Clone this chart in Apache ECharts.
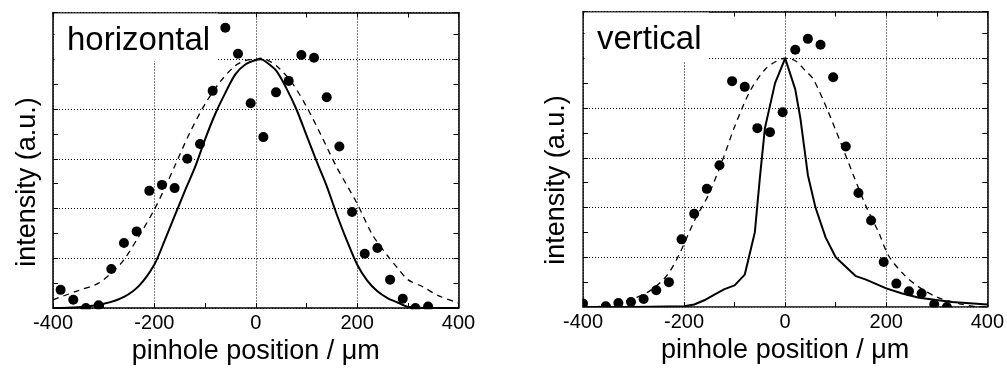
<!DOCTYPE html>
<html>
<head>
<meta charset="utf-8">
<script src="https://cdn.jsdelivr.net/npm/echarts@6/dist/echarts.min.js"></script>
<style>html,body{margin:0;padding:0;background:#fff}#c{width:1007px;height:370px}</style>
</head>
<body>
<div id="c"></div>
<script>
// ---- horizontal panel ----
var hDotX = [-385,-360,-335,-310,-285,-260,-235,-210,-185,-160,-135,-110,-85,-60,-35,-10,15,40,65,90,115,140,165,190,215,240,265,290,315,340];
var hDotY = [0.073,0.033,0.0,0.011,0.157,0.261,0.308,0.471,0.495,0.482,0.600,0.659,0.873,1.127,1.022,0.823,0.687,0.867,0.913,1.017,1.006,0.847,0.649,0.386,0.218,0.241,0.114,0.037,0.0,0.006];
var hSolidX = [-400,-350,-300,-260,-230,-200,-180,-160,-140,-120,-100,-80,-60,-40,-20,0,10,20,40,60,80,100,120,140,160,180,200,220,240,260,280,300,350,400];
var hSolidY = [0.0,0.003,0.017,0.045,0.09,0.175,0.27,0.37,0.47,0.565,0.678,0.78,0.865,0.94,0.98,0.997,1.0,0.99,0.955,0.885,0.8,0.695,0.59,0.49,0.375,0.27,0.175,0.11,0.067,0.04,0.022,0.005,0.0,0.0];
var hDashX = [-400,-380,-350,-310,-280,-260,-230,-200,-180,-160,-130,-100,-70,-40,-20,0,10,20,40,70,100,130,160,200,230,260,280,300,330,360,400];
var hDashY = [0.033,0.048,0.07,0.1,0.15,0.194,0.29,0.396,0.48,0.57,0.705,0.82,0.91,0.975,0.995,1.0,1.004,1.0,0.975,0.91,0.81,0.69,0.565,0.42,0.295,0.21,0.16,0.114,0.085,0.05,0.02];
// ---- vertical panel ----
var vDotX = [-400,-355,-330,-305,-280,-255,-230,-205,-180,-155,-130,-105,-80,-55,-30,-5,20,45,70,95,120,145,170,195,220,245,270,295,320];
var vDotY = [0.014,0.003,0.016,0.02,0.032,0.067,0.1,0.272,0.375,0.475,0.57,0.908,0.885,0.719,0.703,0.783,1.034,1.078,1.054,0.924,0.645,0.458,0.348,0.181,0.094,0.063,0.054,0.011,0.0];
var vSolidX = [-400,-300,-200,-180,-160,-140,-120,-100,-80,-70,-60,-50,-40,-20,0,20,30,45,60,80,100,140,160,200,230,265,330,400];
var vSolidY = [0.0,0.0,0.003,0.01,0.027,0.05,0.072,0.087,0.13,0.215,0.3,0.52,0.72,0.9,1.0,0.875,0.76,0.53,0.4,0.28,0.2,0.124,0.11,0.075,0.055,0.037,0.02,0.01];
var vDashX = [-400,-350,-310,-270,-235,-210,-180,-150,-120,-100,-70,-40,-20,0,20,40,55,80,110,135,160,185,205,235,265,300,345,385,400];
var vDashY = [0.0,0.006,0.027,0.062,0.124,0.21,0.345,0.458,0.612,0.725,0.866,0.955,0.985,1.0,0.99,0.95,0.918,0.81,0.66,0.53,0.405,0.3,0.205,0.13,0.08,0.04,0.013,0.0,0.0];

var xTitle = 'pinhole position / \u03bcm';
var yTitle = 'intensity (a.u.)';
var panelTitles = ['horizontal', 'vertical'];

function pairs(xs, ys){ return xs.map(function(x,i){ return [x, ys[i]]; }); }

var FONT = '"Liberation Sans", Arial, sans-serif';
var dotted = {color:'#000', width:1, type:[1,2]};

function xAx(gi, pos, main){
  return {
    type:'value', gridIndex:gi, position:pos, min:-400, max:400, interval:200,
    axisLine:{show:true, onZero:false, lineStyle:{color:'#000', width:1.5}},
    axisTick:{show:true, inside:true, length:5, lineStyle:{color:'#000', width:1}},
    minorTick:{show:true, splitNumber:2, length:5, lineStyle:{color:'#000', width:1}},
    axisLabel:{show:main, color:'#000', fontSize:20, fontFamily:FONT, margin:5},
    splitLine:{show:main, lineStyle:dotted},
    name: main ? xTitle : '', nameLocation:'middle', nameGap:30,
    nameTextStyle:{color:'#000', fontSize:27, fontFamily:FONT}
  };
}
function yAx(gi, pos, main){
  return {
    type:'value', gridIndex:gi, position:pos, min:0, max:1.188, interval:0.2,
    axisLine:{show:true, onZero:false, lineStyle:{color:'#000', width:1.5}},
    axisTick:{show:true, inside:true, length:5, lineStyle:{color:'#000', width:1}},
    minorTick:{show:true, splitNumber:2, length:5, lineStyle:{color:'#000', width:1}},
    axisLabel:{show:false},
    splitLine:{show:main, lineStyle:dotted}
  };
}

var chart = echarts.init(document.getElementById('c'), null, {renderer:'canvas'});
chart.setOption({
  animation:false,
  backgroundColor:'#fff',
  grid:[
    {left:53, top:12.5, width:405.5, height:296},
    {left:583, top:11.5, width:405, height:295.5}
  ],
  xAxis:[xAx(0,'bottom',true), xAx(0,'top',false), xAx(1,'bottom',true), xAx(1,'top',false)],
  yAxis:[yAx(0,'left',true), yAx(0,'right',false), yAx(1,'left',true), yAx(1,'right',false)],
  series:[
    {type:'line', xAxisIndex:0, yAxisIndex:0, data:pairs(hDashX,hDashY), showSymbol:false, smooth:0.3,
      lineStyle:{color:'#000', width:1.3, type:[6,5]}, z:2},
    {type:'line', xAxisIndex:0, yAxisIndex:0, data:pairs(hSolidX,hSolidY), showSymbol:false, smooth:0.3,
      lineStyle:{color:'#000', width:2}, z:2},
    {type:'scatter', xAxisIndex:0, yAxisIndex:0, data:pairs(hDotX,hDotY), symbol:'circle', symbolSize:10,
      itemStyle:{color:'#000', opacity:1}, z:3},
    {type:'line', xAxisIndex:2, yAxisIndex:2, data:pairs(vDashX,vDashY), showSymbol:false, smooth:0.3,
      lineStyle:{color:'#000', width:1.3, type:[6,5]}, z:2},
    {type:'line', xAxisIndex:2, yAxisIndex:2, data:pairs(vSolidX,vSolidY), showSymbol:false, smooth:false,
      lineStyle:{color:'#000', width:2}, z:2},
    {type:'scatter', xAxisIndex:2, yAxisIndex:2, data:pairs(vDotX,vDotY), symbol:'circle', symbolSize:10,
      itemStyle:{color:'#000', opacity:1}, z:3}
  ],
  graphic:[
    {type:'rect', z:1, silent:true, shape:{x:54.5, y:13.5, width:163.5, height:48}, style:{fill:'#fff'}},
    {type:'rect', z:1, silent:true, shape:{x:584.5, y:12.5, width:124.5, height:48.5}, style:{fill:'#fff'}},
    {type:'rect', z:10, silent:true, shape:{x:48, y:309.3, width:416, height:5}, style:{fill:'#fff'}},
    {type:'rect', z:10, silent:true, shape:{x:578, y:307.8, width:416, height:5}, style:{fill:'#fff'}},
    {type:'rect', z:10, silent:true, shape:{x:576, y:11, width:6.2, height:300}, style:{fill:'#fff'}},
    {type:'text', z:20, x:67, y:40.5, style:{text:panelTitles[0], fontSize:33, fontFamily:FONT, fill:'#000', align:'left', verticalAlign:'middle'}},
    {type:'text', z:20, x:597, y:40, style:{text:panelTitles[1], fontSize:33, fontFamily:FONT, fill:'#000', align:'left', verticalAlign:'middle'}},
    {type:'text', z:20, x:27.5, y:182, rotation:Math.PI/2, style:{text:yTitle, fontSize:27, fontFamily:FONT, fill:'#000', align:'center', verticalAlign:'middle'}},
    {type:'text', z:20, x:557, y:180, rotation:Math.PI/2, style:{text:yTitle, fontSize:27, fontFamily:FONT, fill:'#000', align:'center', verticalAlign:'middle'}}
  ]
});
</script>
</body>
</html>
